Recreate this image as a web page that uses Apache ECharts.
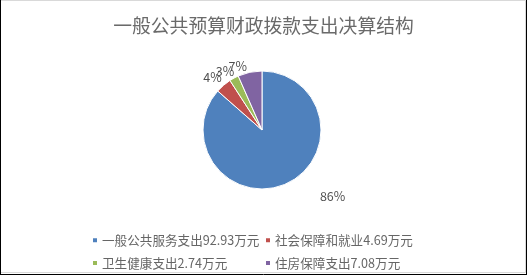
<!DOCTYPE html>
<html><head><meta charset="utf-8">
<script src="https://cdn.jsdelivr.net/npm/echarts@6/dist/echarts.min.js"></script>
<style>html,body{margin:0;padding:0;background:#fff}#c{width:527px;height:275px}</style>
</head><body><div id="c"></div>
<script>
const titleText = '一般公共预算财政拨款支出决算结构';
const categories = ['一般公共服务支出', '社会保障和就业', '卫生健康支出', '住房保障支出'];
const values = [92.93, 4.69, 2.74, 7.08];
const unit = '万元';
const colors = ['#4F81BD', '#C0504D', '#9BBB59', '#8064A2'];

const labelOffsets = [[25, 9], [16, -20], [17, -12], [5, -2]];
const total = values.reduce((a, b) => a + b, 0);
const names = categories.map((c, i) => c + values[i].toFixed(2) + unit);
const font = '"Noto Sans CJK SC", sans-serif';
const chart = echarts.init(document.getElementById('c'));
const legendCommon = {
  orient: 'vertical', top: 229, itemWidth: 6, itemHeight: 6, itemGap: 10,
  icon: 'rect', selectedMode: false,
  textStyle: { fontFamily: font, fontSize: 12.6, color: '#666', padding: [0, 0, 0, -1] }
};
chart.setOption({
  animation: false,
  title: { text: titleText, left: 'center', top: 11,
    textStyle: { fontFamily: font, fontSize: 18.8, fontWeight: 'normal', color: '#6a6a6a' } },
  legend: [
    Object.assign({ left: 86, data: [names[0], names[2]] }, legendCommon),
    Object.assign({ left: 259, data: [names[1], names[3]] }, legendCommon)
  ],
  graphic: [
    { type: 'rect', shape: { x: 0.5, y: 0.5, width: 525, height: 272 }, style: { fill: 'none', stroke: '#d9d9d9', lineWidth: 1 } },
    { type: 'line', shape: { x1: 0.5, y1: 0, x2: 0.5, y2: 275 }, style: { stroke: '#000', lineWidth: 1 } },
    { type: 'line', shape: { x1: 526.5, y1: 0, x2: 526.5, y2: 275 }, style: { stroke: '#000', lineWidth: 1 } },
    { type: 'line', shape: { x1: 0, y1: 274.5, x2: 527, y2: 274.5 }, style: { stroke: '#000', lineWidth: 1 } }
  ],
  series: [{
    type: 'pie', center: [262, 130], radius: 59, startAngle: 90, clockwise: true,
    color: colors,
    itemStyle: { borderColor: '#fff', borderWidth: 1 },
    label: { show: true, position: 'outside', fontFamily: font, fontSize: 12.5, color: '#505050',
      formatter: p => Math.round(p.value / total * 100) + '%' },
    labelLine: { show: false, length: 4, length2: 2 },
    labelLayout: p => ({ dx: labelOffsets[p.dataIndex][0], dy: labelOffsets[p.dataIndex][1], hideOverlap: false }),
    data: names.map((n, i) => ({ name: n, value: values[i] }))
  }]
});
</script></body></html>
